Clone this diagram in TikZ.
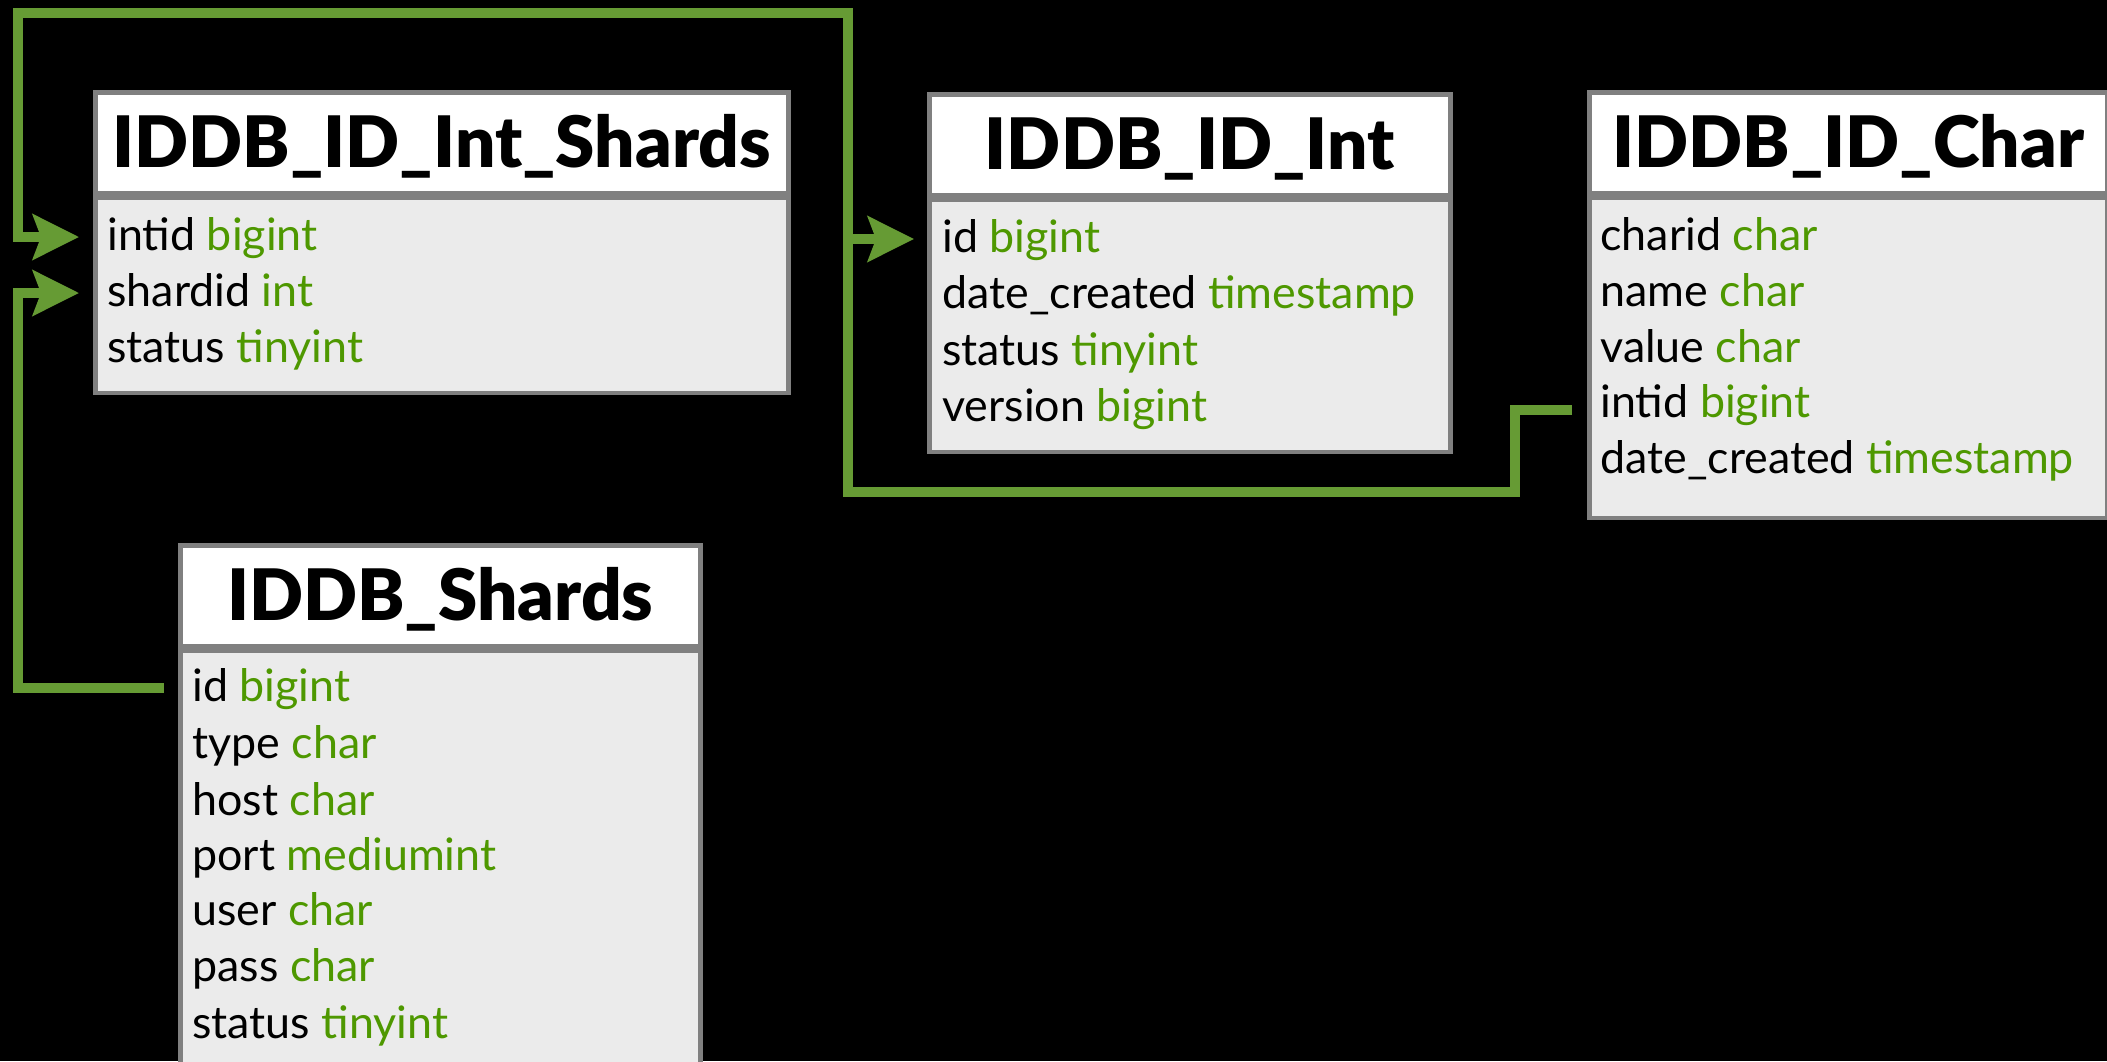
\documentclass[tikz,border=0pt]{standalone}
\usepackage{fontspec}
\setmainfont{Lato}
\newfontfamily\headfont{Lato Black}
\usetikzlibrary{arrows.meta}

\definecolor{linkgreen}{RGB}{102,155,52}
\definecolor{typegreen}{RGB}{78,152,0}
\definecolor{tablegray}{RGB}{128,128,128}
\definecolor{rowfill}{RGB}{235,235,235}

\newcommand{\sqltype}[1]{\textcolor{typegreen}{#1}}

\tikzset{
  tablehead/.style={draw=tablegray, line width=2.25pt, fill=white, anchor=north west,
    inner sep=0pt, minimum height=50.5pt, text height=25pt, text depth=0pt,
    font=\headfont\fontsize{35.5}{35.5}\selectfont},
  tablebody/.style={draw=tablegray, line width=2.25pt, fill=rowfill, anchor=north west, inner sep=0pt},
  fieldrow/.style={anchor=base west, inner xsep=14pt, inner ysep=0pt,
    text height=16pt, text depth=3pt, font=\fontsize{22.4}{22.4}\selectfont},
  link/.style={draw=linkgreen, line width=5pt,
    -{Stealth[length=23pt,width=22.5pt,inset=4pt]}},
}

\begin{document}
\begin{tikzpicture}[x=0.5pt,y=-0.5pt]
    \useasboundingbox (0,0) rectangle (2107,1061);
    \clip (0,0) rectangle (2107,1061);
    \fill[black] (0,0) rectangle (2107,1061);

    % tables
    \node[tablehead, minimum width=346.5pt] (intShardsHead) at (93,90) {IDDB\_ID\_Int\_Shards};
    \node[tablebody, minimum width=346.5pt, minimum height=97.5pt] (intShardsBody) at (intShardsHead.south west) {};

    \node[tablehead, minimum width=260.5pt] (intHead) at (927,92) {IDDB\_ID\_Int};
    \node[tablebody, minimum width=260.5pt, minimum height=126pt] (intBody) at (intHead.south west) {};

    \node[tablehead, minimum width=259pt] (charHead) at (1587,90) {IDDB\_ID\_Char};
    \node[tablebody, minimum width=259pt, minimum height=160pt] (charBody) at (charHead.south west) {};

    \node[tablehead, minimum width=260pt] (shardsHead) at (178,543) {IDDB\_Shards};
    \node[tablebody, minimum width=260pt, minimum height=228pt] (shardsBody) at (shardsHead.south west) {};

    % fields
    \node[fieldrow] (isIntid)   at (79, 250) {intid \sqltype{bigint}};
    \node[fieldrow] (isShardid) at (79, 306) {shardid \sqltype{int}};
    \node[fieldrow] (isStatus)  at (79, 362) {status \sqltype{tinyint}};

    \node[fieldrow] (iId)      at (914, 252) {id \sqltype{bigint}};
    \node[fieldrow] (iCreated) at (914, 308) {date\_created \sqltype{timestamp}};
    \node[fieldrow] (iStatus)  at (914, 365) {status \sqltype{tinyint}};
    \node[fieldrow] (iVersion) at (914, 421) {version \sqltype{bigint}};

    \node[fieldrow] (cCharid)  at (1572, 250) {charid \sqltype{char}};
    \node[fieldrow] (cName)    at (1572, 306) {name \sqltype{char}};
    \node[fieldrow] (cValue)   at (1572, 362) {value \sqltype{char}};
    \node[fieldrow] (cIntid)   at (1572, 417) {intid \sqltype{bigint}};
    \node[fieldrow] (cCreated) at (1572, 473) {date\_created \sqltype{timestamp}};

    \node[fieldrow] (sId)     at (164,  701) {id \sqltype{bigint}};
    \node[fieldrow] (sType)   at (164,  758) {type \sqltype{char}};
    \node[fieldrow] (sHost)   at (164,  815) {host \sqltype{char}};
    \node[fieldrow] (sPort)   at (164,  870) {port \sqltype{mediumint}};
    \node[fieldrow] (sUser)   at (164,  925) {user \sqltype{char}};
    \node[fieldrow] (sPass)   at (164,  981) {pass \sqltype{char}};
    \node[fieldrow] (sStatus) at (164, 1038) {status \sqltype{tinyint}};

    % links
    \coordinate (jog)  at (1515, 492);
    \coordinate (topR) at (848, 12.5);
    \coordinate (topL) at (17.7, 12.5);

    \draw[link] ([yshift=-3pt]cIntid.west) -| (jog) -| (topR) -- (topL) |- (isIntid.west);
    \draw[link] (topR |- iId.west) -- (iId.west);
    \draw[link] (sId.west) -- (sId.west -| topL) |- (isShardid.west);
\end{tikzpicture}
\end{document}
